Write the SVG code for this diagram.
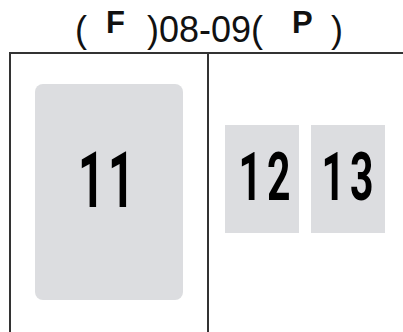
<svg xmlns="http://www.w3.org/2000/svg" width="403" height="332" viewBox="0 0 403 332">
<style>
.t{font-family:"Liberation Sans",Arial,sans-serif;fill:#111;}
.b{font-weight:bold;}
.n{font-family:Roboto,"Liberation Sans",sans-serif;font-weight:bold;fill:#000;}
.box{fill:#dcdde0;}
.frame{fill:none;stroke:#333;stroke-width:2;}
</style>
<rect width="403" height="332" fill="#fff"/>
<g id="title">
<text class="t" x="75" y="42" font-size="36">(</text>
<text class="t b" x="106" y="33" font-size="31">F</text>
<text class="t" x="147" y="42" font-size="36">)08-09(</text>
<text class="t b" x="292" y="33" font-size="31">P</text>
<text class="t" x="331" y="42" font-size="36">)</text>
</g>
<g id="frame">
<path class="frame" d="M10,333 V53 H404 M208,53 V333"/>
</g>
<g id="n11">
<rect class="box" x="35" y="84" width="148" height="216" rx="8"/>
<text class="n" transform="translate(108,207) scale(0.6,1)" text-anchor="middle" font-size="77" letter-spacing="6">11</text>
</g>
<g id="n12">
<rect class="box" x="225" y="125" width="74" height="108"/>
<text class="n" transform="translate(267,200) scale(0.62,1)" text-anchor="middle" font-size="66" letter-spacing="8">12</text>
</g>
<g id="n13">
<rect class="box" x="311" y="125" width="74" height="108"/>
<text class="n" transform="translate(350,200) scale(0.62,1)" text-anchor="middle" font-size="66" letter-spacing="8">13</text>
</g>
<g id="connectors"></g>
</svg>
